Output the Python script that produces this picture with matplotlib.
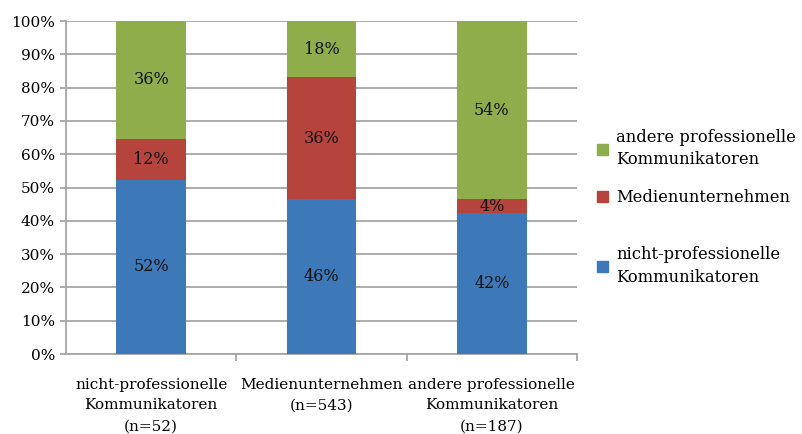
import numpy as np
import matplotlib
matplotlib.use("Agg")
import matplotlib.pyplot as plt
from matplotlib.patches import Patch

plt.rcParams['font.family'] = ['DejaVu Serif']
plt.rcParams['font.size'] = 11

# data (share in %)
categories = ["nicht-professionelle\nKommunikatoren\n(n=52)",
              "Medienunternehmen\n(n=543)",
              "andere professionelle\nKommunikatoren\n(n=187)"]
series_names = ["nicht-professionelle\nKommunikatoren",
                "Medienunternehmen",
                "andere professionelle\nKommunikatoren"]
nichtprof = [52.4, 46.6, 42.4]
medien = [12.3, 36.5, 4.0]
andere = [35.3, 16.9, 53.6]
labels_nichtprof = ["52%", "46%", "42%"]
labels_medien = ["12%", "36%", "4%"]
labels_andere = ["36%", "18%", "54%"]

colors = ["#3D79B8", "#B4443C", "#8FAD4A"]

fig = plt.figure(figsize=(8.02, 4.34), dpi=100)
ax = fig.add_axes([0.0823, 0.1843, 0.7195 - 0.0823, 0.9516 - 0.1843])

x = np.arange(len(categories))
w = 0.41
bottom = np.zeros(len(categories))
for vals, labs, c in zip([nichtprof, medien, andere],
                         [labels_nichtprof, labels_medien, labels_andere], colors):
    bars = ax.bar(x, vals, w, bottom=bottom, color=c, zorder=3)
    ax.bar_label(bars, labels=labs, label_type='center', fontsize=11.5, color='#111111')
    bottom += np.array(vals)

ax.set_xlim(-0.5, len(categories) - 0.5)
ax.set_ylim(0, 100)
ax.set_yticks(np.arange(0, 101, 10))
ax.set_yticklabels([f"{v}%" for v in range(0, 101, 10)])
ax.yaxis.grid(True, color='#A6A6A6', linewidth=1.3, zorder=0)
ax.set_axisbelow(True)

ax.set_xticks(x)
ax.set_xticklabels(categories, linespacing=1.62)
ax.set_xticks([0.5, 1.5, 2.5], minor=True)
ax.tick_params(axis='x', which='major', length=0, pad=17)
ax.tick_params(axis='x', which='minor', length=5, color='#A6A6A6', width=1.3)
ax.tick_params(axis='y', length=4, color='#A6A6A6', width=1.3, pad=4)

for s in ['top', 'right']:
    ax.spines[s].set_visible(False)
for s in ['left', 'bottom']:
    ax.spines[s].set_color('#A6A6A6')
    ax.spines[s].set_linewidth(1.3)

# legend entries are spaced unevenly in the original, so one legend per entry
leg_y = [0.658, 0.544, 0.387]
for i, yy in zip([2, 1, 0], leg_y):
    leg = fig.legend([Patch(color=colors[i])], [series_names[i]],
                     loc='center left', bbox_to_anchor=(0.745, yy), frameon=False,
                     handlelength=0.65, handleheight=0.65, handletextpad=0.5,
                     borderpad=0, borderaxespad=0, fontsize=11.8)
    for t in leg.get_texts():
        t.set_linespacing(1.4)

fig.savefig("out.png", dpi=100)
